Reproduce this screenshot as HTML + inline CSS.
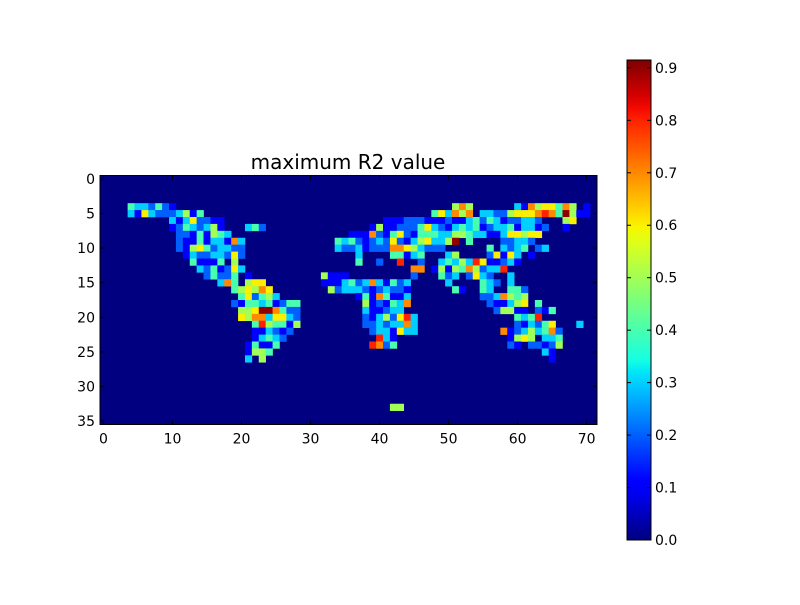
<!DOCTYPE html>
<html><head><meta charset="utf-8"><style>
body{margin:0;background:#fff;}
svg text{font-family:"DejaVu Sans","Liberation Sans",sans-serif;fill:#000;}
</style></head><body>
<svg id="chart" width="800" height="600" viewBox="0 0 800 600" xmlns="http://www.w3.org/2000/svg">
<rect width="800" height="600" fill="#fff"/>
<text x="348" y="169" font-size="20" text-anchor="middle">maximum R2 value</text>
<g id="cells"></g>
<g id="axes"></g>
<g id="cbar"></g>
</svg>
<script>
const nCols = 72;
const nRows = 36;
const vmax = 0.915;
const xTicks = [0,10,20,30,40,50,60,70];
const yTicks = [0,5,10,15,20,25,30,35];
const cbTicks = [0.0,0.1,0.2,0.3,0.4,0.5,0.6,0.7,0.8,0.9];
// [row, startCol, digits] digit d => value d/10, '0' => 0
const cellRuns = [
[4,4,"4332421"],[4,51,"575"],[4,60,"31756647501"],
[5,4,"31632223514"],[5,48,"46375703322566678749511"],
[6,10,"31362211"],[6,41,"1112221112113424312233200056"],
[7,10,"12432351"],[7,21,"342"],[7,39,"1511222"],[7,46,"4632134341233413312001"],
[8,11,"22141543"],[8,36,"1117214621"],[8,46,"444335543311366566"],
[9,11,"2114133173"],[9,34,"434212326213"],[9,46,"56335904000022332"],
[10,11,"2156423322"],[10,34,"322312227765"],[10,46,"3222000000403234023"],
[11,12,"132233262"],[11,37,"3"],[11,42,"44134"],[11,50,"3500002616301"],
[12,13,"4111405"],[12,37,"4"],[12,40,"2"],[12,43,"8"],[12,46,"200343538611231"],
[13,14,"3241263"],[13,45,"77015154752338"],
[14,15,"2422401"],[14,32,"5111"],[14,45,"200042302632003"],
[15,17,"3740566"],[15,32,"1113423731423"],[15,50,"3000043203"],
[16,19,"456576"],[16,33,"523332123221"],[16,51,"41004300442"],
[17,20,"462453"],[17,37,"14174113"],[17,55,"2237545"],
[18,19,"2144341244"],[18,38,"5121437"],[18,56,"21135604"],
[19,20,"556997422"],[19,38,"311233"],[19,57,"255110214"],
[20,20,"657736632"],[20,38,"21352683"],[20,60,"4348"],
[21,22,"4854415"],[21,38,"22323373"],[21,60,"213246"],[21,69,"3"],
[22,22,"113212"],[22,39,"2331633"],[22,58,"712353472"],
[23,22,"13432"],[23,40,"831"],[23,59,"15650334"],
[24,21,"14114"],[24,39,"8724"],[24,59,"21022125"],
[25,21,"1554"],[25,64,"31"],
[26,21,"305"],[26,65,"1"],
[33,42,"55"]
];

const NS="http://www.w3.org/2000/svg";
const L=100,T=175.5,W=497,H=249;
const cw=W/nCols, ch=H/nRows;
function xScale(v){return L+(v+0.5)*cw;}
function yScale(v){return T+(v+0.5)*ch;}
function interp(pts,t){for(let i=1;i<pts.length;i++){if(t<=pts[i][0]){const a=pts[i-1],b=pts[i];return a[1]+(b[1]-a[1])*(t-a[0])/(b[0]-a[0]);}}return pts[pts.length-1][1];}
function jet(v){let t=Math.max(0,Math.min(1,v/vmax));
const r=interp([[0,0],[0.35,0],[0.66,1],[0.89,1],[1,0.5]],t);
const g=interp([[0,0],[0.125,0],[0.375,1],[0.64,1],[0.91,0],[1,0]],t);
const b=interp([[0,0.5],[0.11,1],[0.34,1],[0.65,0],[1,0]],t);
return `rgb(${Math.round(r*255)},${Math.round(g*255)},${Math.round(b*255)})`;}
function mk(tag,attrs,parent){const e=document.createElementNS(NS,tag);for(const k in attrs)e.setAttribute(k,attrs[k]);parent.appendChild(e);return e;}

const grid=[];for(let r=0;r<nRows;r++){grid.push(new Array(nCols).fill(0));}
cellRuns.forEach(([r,c0,s])=>{for(let i=0;i<s.length;i++){grid[r][c0+i]=parseInt(s[i])/10;}});

const cells=document.getElementById('cells');
const bg=mk('rect',{x:L,y:T,width:W,height:H,fill:jet(0)},cells);


for(let r=0;r<nRows;r++)for(let c=0;c<nCols;c++){const v=grid[r][c];if(v<=0)continue;
const e=mk('rect',{x:(xScale(c)-cw/2).toFixed(2),y:(yScale(r)-ch/2).toFixed(2),width:(cw+0.3).toFixed(2),height:(ch+0.3).toFixed(2),fill:jet(v)},cells);

}

const axes=document.getElementById('axes');
const frame=mk('rect',{x:L,y:T,width:W,height:H,fill:'none',stroke:'#000','stroke-width':1},axes);


xTicks.forEach(v=>{const x=xScale(v);
mk('line',{x1:x,y1:T+H,x2:x,y2:T+H-4,stroke:'#000'},axes);
mk('line',{x1:x,y1:T,x2:x,y2:T+4,stroke:'#000'},axes);
const t=mk('text',{x:x,y:T+H+19,'font-size':14,'text-anchor':'middle'},axes);t.textContent=v;

});
yTicks.forEach(v=>{const y=yScale(v);
mk('line',{x1:L,y1:y,x2:L+4,y2:y,stroke:'#000'},axes);
mk('line',{x1:L+W,y1:y,x2:L+W-4,y2:y,stroke:'#000'},axes);
const t=mk('text',{x:L-5,y:y+5,'font-size':14,'text-anchor':'end'},axes);t.textContent=v;

});

const cb=document.getElementById('cbar');
const cbX=627,cbY=60,cbW=24,cbH=480;
const defs=mk('defs',{},cb);
const grad=mk('linearGradient',{id:'jetg',x1:0,y1:1,x2:0,y2:0},defs);
for(let i=0;i<=40;i++){mk('stop',{offset:i/40,'stop-color':jet(vmax*i/40)},grad);}
const cbr=mk('rect',{x:cbX,y:cbY,width:cbW,height:cbH,fill:'url(#jetg)',stroke:'#000','stroke-width':1},cb);


function cbScale(v){return cbY+cbH-v/vmax*cbH;}
cbTicks.forEach(v=>{const y=cbScale(v);
mk('line',{x1:cbX,y1:y,x2:cbX+4,y2:y,stroke:'#000'},cb);
mk('line',{x1:cbX+cbW,y1:y,x2:cbX+cbW-4,y2:y,stroke:'#000'},cb);
const t=mk('text',{x:cbX+cbW+4,y:y+5,'font-size':14},cb);t.textContent=v.toFixed(1);

});
</script>
</body></html>
